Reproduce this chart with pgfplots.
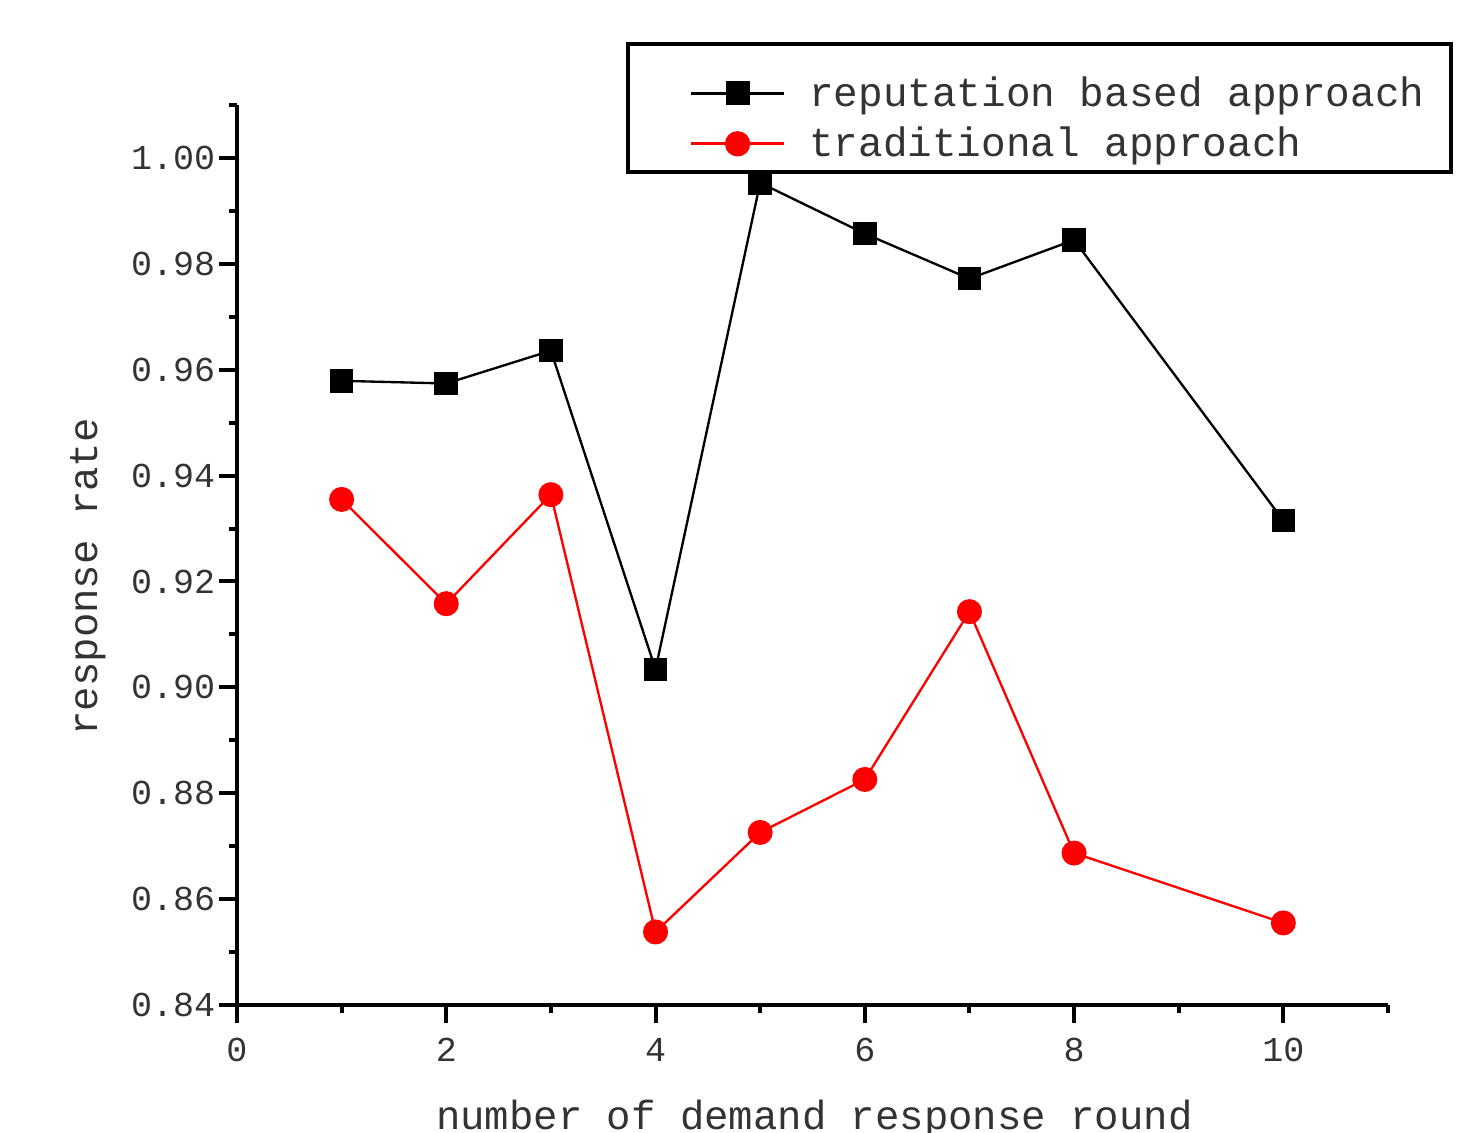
\documentclass[border=0pt]{standalone}
\usepackage{fontspec}
\setmainfont{Liberation Mono}
\usepackage{pgfplots}
\pgfplotsset{compat=1.18}
\definecolor{txt}{gray}{0.2}
\pgfplotsset{
  firstlegimg/.style={legend image code/.code={
    \path[draw=none, fill=none] (0pt,-3pt) -- (46.5pt,-3pt);
    \draw[##1, line width=0.8pt] (13pt,-3pt) -- (41pt,-3pt);
    \draw[##1, line width=0.8pt] plot coordinates {(27pt,-3pt)};
  }},
}
\begin{document}
\begin{tikzpicture}
\begin{axis}[
  scale only axis,
  width=345.3pt, height=270pt,
  xmin=0, xmax=11, ymin=0.84, ymax=1.01,
  axis x line=bottom, axis y line=left,
  axis line style={-, line width=1.2pt},
  xtick={0,2,4,6,8,10},
  minor xtick={1,3,5,7,9,11},
  ytick={0.84,0.86,...,1.001},
  minor ytick={0.85,0.87,0.89,0.91,0.93,0.95,0.97,0.99,1.01},
  tick align=outside,
  major tick length=5.4pt, minor tick length=2.4pt,
  every tick/.style={line width=1.2pt, black},
  /pgf/number format/assume math mode=true,
  yticklabel style={/pgf/number format/fixed, /pgf/number format/fixed zerofill, /pgf/number format/precision=2, xshift=2.4pt},
  ticklabel style={font=\fontsize{10.5}{12}\selectfont, text=txt},
  xticklabel style={yshift=-1pt},
  xlabel={number of demand response round},
  ylabel={response rate},
  label style={font=\fontsize{12.2}{14}\selectfont, text=txt},
  xlabel style={at={(rel axis cs:0.5017,-0.138)}, anchor=base},
  ylabel style={at={(rel axis cs:-0.1295,0.4756)}, anchor=center},
  legend style={at={(rel axis cs:1.0565,1.0695)}, anchor=north east,
    draw=black, line width=1.2pt, font=\fontsize{12.3}{14}\selectfont,
    text=txt, inner xsep=6pt, inner ysep=1.3pt, row sep=0.6pt},
  legend cell align=left,
  legend image code/.code={
    \path[draw=none, fill=none] (0pt,0pt) -- (46.5pt,0pt);
    \draw[#1, line width=0.8pt] (13pt,0pt) -- (41pt,0pt);
    \draw[#1, line width=0.8pt] plot coordinates {(27pt,0pt)};
  },
  clip=false,
]
\addplot[black, line width=0.7pt, mark=square*, mark size=3.2pt, mark options={solid}, firstlegimg]
  coordinates {(1,0.9579) (2,0.9574) (3,0.9636) (4,0.9034) (5,0.9953) (6,0.9857) (7,0.9772) (8,0.9845) (10,0.9315)};
\addlegendentry{\rule{0pt}{15.2pt}reputation based approach}
\addplot[red, line width=0.7pt, mark=*, mark size=3.4pt, mark options={solid}]
  coordinates {(1,0.9355) (2,0.9158) (3,0.9364) (4,0.8538) (5,0.8726) (6,0.8826) (7,0.9143) (8,0.8687) (10,0.8555)};
\addlegendentry{traditional approach}
\coordinate (bl) at (rel axis cs:-0.2059,-0.1422);
\coordinate (tr) at (rel axis cs:1.0652,1.1167);
\end{axis}
\pgfresetboundingbox
\path[use as bounding box] (bl) rectangle (tr);
\end{tikzpicture}
\end{document}
